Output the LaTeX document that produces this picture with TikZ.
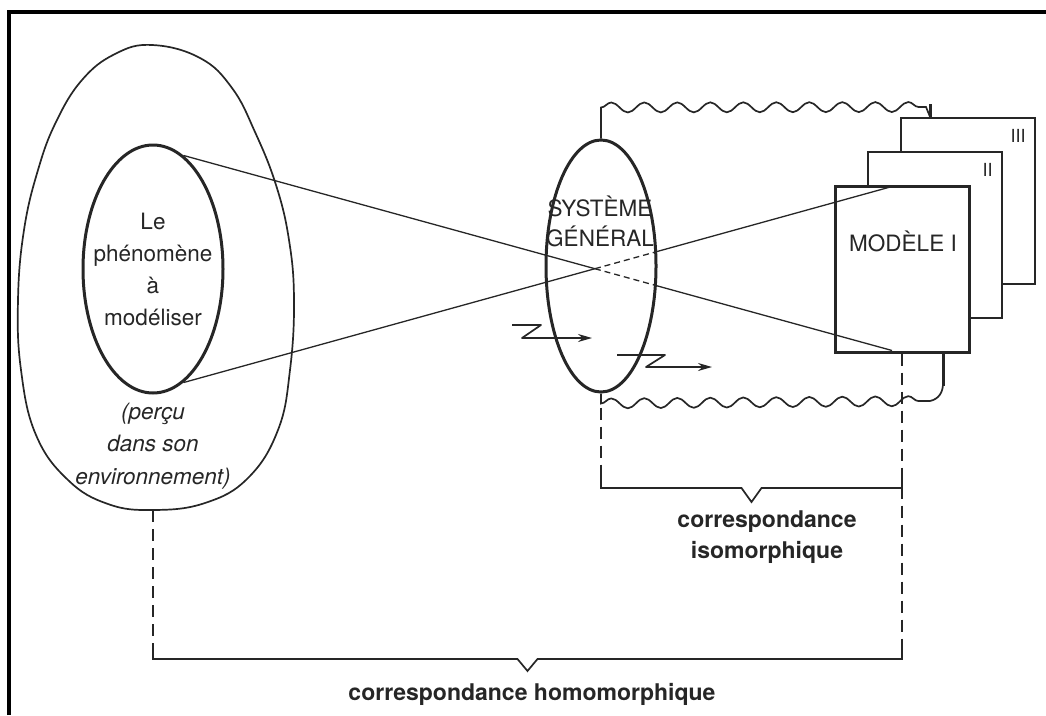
\documentclass[tikz,border=0pt]{standalone}
\usepackage{fontspec}
\setmainfont{TeX Gyre Heros}
\usetikzlibrary{shapes.geometric,decorations.pathmorphing,arrows.meta,calc,intersections}

\begin{document}
\begin{tikzpicture}[x=1pt, y=-1pt,
    ink/.style={draw=black!85, line width=1.7pt},
    boldink/.style={draw=black!85, line width=3pt},
    ray/.style={draw=black!85, line width=1.3pt},
    raydash/.style={draw=black!85, line width=1.3pt, dash pattern=on 6pt off 4pt},
    dashline/.style={draw=black!85, line width=1.4pt, dash pattern=on 12pt off 7pt},
    wave/.style={draw=black!85, line width=1.7pt, decoration={snake, amplitude=5pt, segment length=33pt}},
    panel/.style={ink, fill=white, minimum width=134pt, minimum height=166pt, inner sep=0pt},
    txt/.style={text=black!85, align=center, font=\fontsize{22.5}{32}\selectfont},
    numtxt/.style={text=black!85, inner sep=0pt, font=\fontsize{18}{20}\selectfont},
    envtxt/.style={text=black!85, align=center, font=\itshape\fontsize{22.5}{32.5}\selectfont},
    captxt/.style={text=black!85, align=center, font=\bfseries\fontsize{23}{31}\selectfont}]

  \useasboundingbox (0,0) rectangle (1046,715);
  % frame
  \draw[line width=4pt, line join=miter] (9,715) -- (9,12) -- (1046,12);

  % the phenomenon in its environment
  \draw[ink] plot[smooth cycle, tension=0.7] coordinates {
    (152,45) (200,58) (232,88) (255,132) (276,185) (289,240) (294,300)
    (290,370) (278,430) (248,478) (205,503) (153,510) (108,504) (68,480)
    (36,435) (21,370) (18,300) (24,230) (38,170) (56,122) (82,80) (115,54)};
  \coordinate (envbot) at (153,510);
  \node[ellipse, boldink, minimum width=140pt, minimum height=248pt, inner sep=0pt] (phen) at (153,269) {};
  \node[txt] (phentxt) at (phen.center) {Le\\phénomène\\à\\modéliser};
  \node[envtxt] (env) at (153,446) {(perçu\\dans son\\environnement)};

  % general system
  \node[ellipse, boldink, minimum width=110pt, minimum height=252pt, inner sep=0pt] (sys) at (601,266) {};
  \node[txt] (systxt) at (600,221) {SYSTÈME\\[-2pt]GÉNÉRAL};

  % models, back to front
  \foreach \n/\k in {III/2, II/1} {
    \node[panel] (mod\n) at ($(902,269)+(33*\k,-34*\k)$) {};
    \node[numtxt, anchor=north east] (num\n) at ($(mod\n.north east)+(-10,12)$) {\n};
  }
  \node[panel, boldink] (modI) at (902,269) {};
  \node[txt] (modItxt) at (903,241) {MODÈLE I};

  % crossing rays
  \coordinate (eA) at ($(modI.south)+(-10,-3)$);
  \coordinate (eB) at ($(modI.north)+(-10,2)$);
  \path[name path=rayA] (phen.75) -- (eA);
  \path[name path=rayB] (phen.-75) -- (eB);
  \path[name path=sysrim] (sys.center) ellipse [x radius=55pt, y radius=126pt];
  \path[name intersections={of=rayA and rayB, by=X}];
  \path[name intersections={of=rayA and sysrim, sort by=rayA, name=a}];
  \path[name intersections={of=rayB and sysrim, sort by=rayB, name=b}];
  \draw[ray] (phen.75) -- (X);
  \draw[raydash] (X) -- (a-2);
  \draw[ray] (a-2) -- (eA);
  \draw[ray] (phen.-75) -- (X);
  \draw[raydash] (X) -- (b-2);
  \draw[ray] (b-2) -- (eB);

  % wavy links
  \coordinate (wtop) at ($(modIII.north west)+(30,0)$);
  \coordinate (wbot) at ($(modI.south)+(41,0)$);
  \draw[wave] (sys.north) -- ++(0,-31) decorate {-- (926,107)} -- (wtop);
  \draw[boldink] ($(wtop)+(0,-13)$) -- (wtop);
  \draw[wave] (sys.south) -- ++(0,10) decorate {-- (930,401)}
    .. controls (939,399) and (943,392) .. ($(wbot)+(0,30)$) -- (wbot);
  \draw[boldink] (wbot) -- ++(0,32);

  % zigzag arrows
  \draw[ink, line join=round, -{Stealth[length=14pt, width=8pt]}] (512,325) -- (541,325) -- (522,338) -- (592,338);
  \draw[ink, line join=round, -{Stealth[length=14pt, width=8pt]}] (617,355) -- (665,355) -- (646,367) -- (712,367);

  % correspondences
  \coordinate (isoY) at (0,488);
  \coordinate (homY) at (0,659);
  \coordinate (isoL) at (sys.south |- isoY);
  \coordinate (isoR) at (modI.south |- isoY);
  \coordinate (isoM) at ($(isoL)!0.5!(isoR)$);
  \coordinate (homL) at (envbot |- homY);
  \coordinate (homR) at (modI.south |- homY);
  \coordinate (homM) at ($(homL)!0.5!(homR)$);
  \draw[dashline] ($(sys.south)+(0,14)$) -- ($(isoL)+(0,-16)$);
  \draw[dashline] (modI.south) -- ($(homR)+(0,-16)$);
  \draw[dashline] (envbot) -- ($(homL)+(0,-16)$);
  \draw[ink] ($(isoL)+(0,-16)$) -- (isoL) -- ($(isoM)+(-10,0)$) -- ($(isoM)+(0,14)$)
    -- ($(isoM)+(10,0)$) -- (isoR) -- ($(isoR)+(0,-16)$);
  \draw[ink] ($(homL)+(0,-16)$) -- (homL) -- ($(homM)+(-10,0)$) -- ($(homM)+(0,12)$)
    -- ($(homM)+(10,0)$) -- (homR) -- ($(homR)+(0,-16)$);
  \node[captxt] (isotxt) at (767,537) {correspondance\\isomorphique};
  \node[captxt] (homtxt) at (532,694) {correspondance homomorphique};
\end{tikzpicture}
\end{document}
